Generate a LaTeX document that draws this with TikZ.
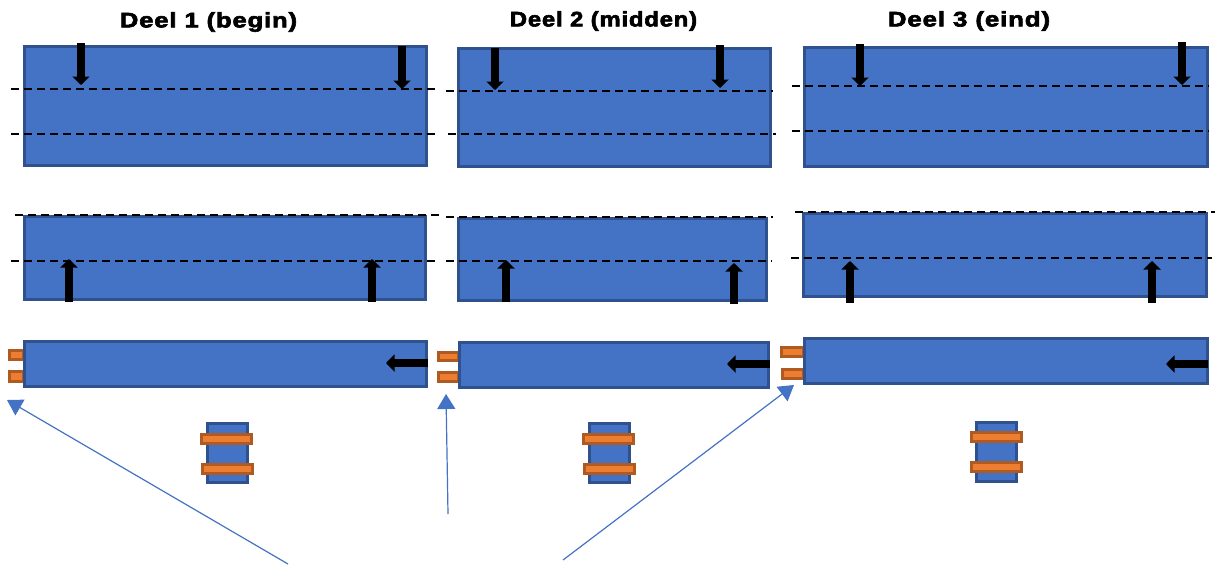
\documentclass[tikz,border=0pt]{standalone}
\usepackage{fontspec}
\setmainfont{Liberation Sans}
\newfontfamily\titlefont[FakeBold=3,FakeStretch=1.17,LetterSpace=4]{Liberation Sans Bold}
\usetikzlibrary{arrows.meta,positioning}
\definecolor{bfill}{HTML}{4472C4}
\definecolor{bedge}{HTML}{2F528F}
\definecolor{ofill}{HTML}{ED7D31}
\definecolor{oedge}{HTML}{AE5A21}
\tikzset{
  bluebox/.style={fill=bfill,draw=bedge,line width=3pt,inner sep=0pt,outer sep=0pt},
  orangebox/.style={fill=ofill,draw=oedge,line width=3pt,inner sep=0pt,outer sep=0pt},
  cut/.style={draw=black,line width=1.4pt,dash pattern=on 7.5pt off 5.5pt},
  push/.style={draw=black,line width=7.5pt,-{Triangle[length=8.5pt,width=17pt]}},
  pointer/.style={draw=bfill,line width=1.2pt,-{Triangle[length=15pt,width=18pt]}},
  title/.style={font=\titlefont\fontsize{21}{24}\selectfont,inner sep=0pt}
}
% name, x1, y1, x2, y2 (outer pixel edges); the line is drawn inside the edge
\newcommand{\rectnode}[6]{%
  \pgfmathsetlengthmacro{\rw}{#5-#3-3}%
  \pgfmathsetlengthmacro{\rh}{#6-#4-3}%
  \node[#1,minimum width=\rw,minimum height=\rh,anchor=center] (#2) at ({(#3+#5)/2},{(#4+#6)/2}) {};}
\newcommand{\cutline}[3]{\draw[cut] (#1,#3) -- (#2,#3);}
\newcommand{\pusharrow}[3]{%
  \coordinate (pa#1) at #2; \coordinate (pb#1) at #3; \draw[push] (pa#1) -- (pb#1);}
\begin{document}
\begin{tikzpicture}[x=1pt,y=-1pt]
\useasboundingbox (0,0) rectangle (1215,565);
% titles
\node[title] (t1) at (208.5,22) {\scalebox{1.04}[1]{Deel 1 (begin)}};
\node[title] (t2) at (603.5,21) {\scalebox{0.97}[1]{Deel 2 (midden)}};
\node[title] (t3) at (969,21) {\scalebox{1.05}[1]{Deel 3 (eind)}};
% tabs (behind bars)
\rectnode{orangebox}{a1}{8}{349}{25}{361}
\rectnode{orangebox}{a2}{8}{370}{25}{383}
\rectnode{orangebox}{b1}{437}{351}{460}{362}
\rectnode{orangebox}{b2}{437}{371}{460}{383}
\rectnode{orangebox}{c1}{780}{346}{805}{358}
\rectnode{orangebox}{c2}{781}{368}{805}{380}
% bars
\rectnode{bluebox}{p1a}{23}{45}{428}{167}
\rectnode{bluebox}{p1b}{23}{215}{427}{301}
\rectnode{bluebox}{p1c}{23}{340}{428}{388}
\rectnode{bluebox}{p2a}{457}{47}{772}{168}
\rectnode{bluebox}{p2b}{457}{217}{768}{302}
\rectnode{bluebox}{p2c}{458}{341}{770}{389}
\rectnode{bluebox}{p3a}{803}{46}{1209}{168}
\rectnode{bluebox}{p3b}{802}{212}{1208}{298}
\rectnode{bluebox}{p3c}{803}{337}{1209}{385}
% small cross-sections
\rectnode{bluebox}{s1}{206}{422}{249}{484}
\rectnode{orangebox}{s1a}{200}{433}{253}{445}
\rectnode{orangebox}{s1b}{201}{463}{254}{475}
\rectnode{bluebox}{s2}{588}{422}{631}{484}
\rectnode{orangebox}{s2a}{582}{433}{635}{445}
\rectnode{orangebox}{s2b}{583}{463}{636}{475}
\rectnode{bluebox}{s3}{975}{421}{1018}{483}
\rectnode{orangebox}{s3a}{970}{431}{1023}{443}
\rectnode{orangebox}{s3b}{970}{461}{1023}{473}
% dashed lines
\cutline{11}{436}{89}
\cutline{11}{436}{134}
\cutline{15}{440}{215}
\cutline{11}{440}{261}
\cutline{446}{773}{91}
\cutline{448}{776}{134}
\cutline{446}{773}{217}
\cutline{446}{772}{261}
\cutline{792}{1209}{86}
\cutline{792}{1209}{131}
\cutline{795}{1215}{212}
\cutline{791}{1212}{258}
% black arrows
\pusharrow{1}{(81,43)}{(81,85)}
\pusharrow{2}{(402,46)}{(402,89)}
\pusharrow{3}{(495,48)}{(495,90)}
\pusharrow{4}{(720,45)}{(720,88)}
\pusharrow{5}{(860,44)}{(860,86)}
\pusharrow{6}{(1182,42)}{(1182,85)}
\pusharrow{7}{(69,302)}{(69,259)}
\pusharrow{8}{(372,302)}{(372,259)}
\pusharrow{9}{(506,302)}{(506,260)}
\pusharrow{10}{(734,304)}{(734,263)}
\pusharrow{11}{(850,303)}{(850,261)}
\pusharrow{12}{(1152,303)}{(1152,261)}
\pusharrow{13}{(428,363)}{(386,363)}
\pusharrow{14}{(770,364)}{(727,364)}
\pusharrow{15}{(1208,364)}{(1166,364)}
% pointers
\coordinate (q1) at (288,564); \coordinate (r1) at (7,400);
\coordinate (q2) at (448,514); \coordinate (r2) at (446,394);
\coordinate (q3) at (563,560); \coordinate (r3) at (794,385);
\draw[pointer] (q1) -- (r1);
\draw[pointer] (q2) -- (r2);
\draw[pointer] (q3) -- (r3);
\end{tikzpicture}
\end{document}
